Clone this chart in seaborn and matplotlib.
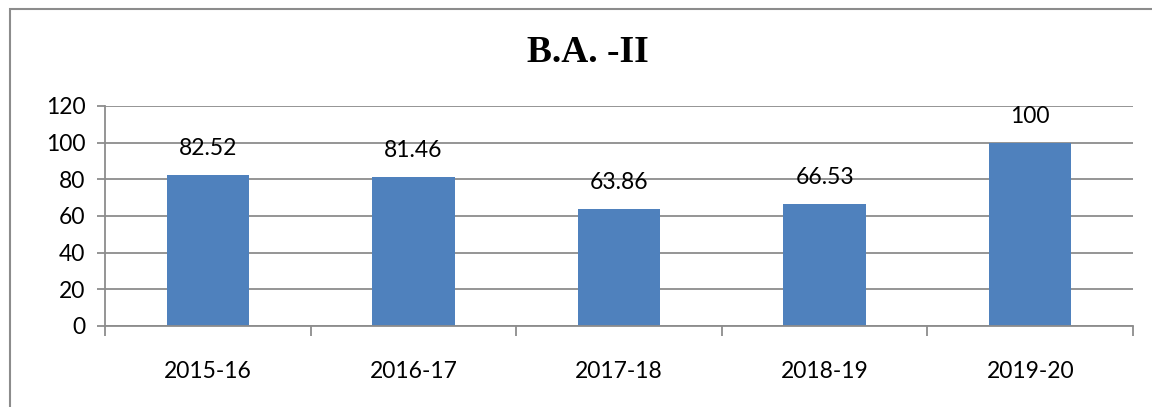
import matplotlib
matplotlib.use("Agg")
import matplotlib.pyplot as plt
import seaborn as sns
import pandas as pd
from matplotlib.patches import Rectangle

categories = ["2015-16", "2016-17", "2017-18", "2018-19", "2019-20"]
values = [82.52, 81.46, 63.86, 66.53, 100]
labels = ["82.52", "81.46", "63.86", "66.53", "100"]
title = "B.A. -II"

sns.set_theme(style="white")
plt.rcParams['font.family'] = ['Lato', 'DejaVu Sans']

W, H = 1152, 407
fig = plt.figure(figsize=(W / 100, H / 100), dpi=100)
ax = fig.add_axes([105 / W, (H - 326) / H, (1133 - 105) / W, 220 / H])

df = pd.DataFrame({"cat": categories, "val": values})
sns.barplot(data=df, x="cat", y="val", color="#4F81BD", saturation=1, width=0.4,
            linewidth=0, ax=ax)

ax.set_ylim(0, 120)
ax.set_xlim(-0.5, len(categories) - 0.5)
ax.set_yticks(range(0, 121, 20))
ax.set_xlabel("")
ax.set_ylabel("")

grid_c = "#8c8c8c"
ax.yaxis.grid(True, color=grid_c, linewidth=1.3)
ax.set_axisbelow(True)
for s in ["top", "right"]:
    ax.spines[s].set_visible(False)
for s in ["left", "bottom"]:
    ax.spines[s].set_color(grid_c)
    ax.spines[s].set_linewidth(1.3)

fs = 16.5
ax.tick_params(axis="y", which="major", left=True, length=6, width=1.3, color=grid_c,
               labelsize=fs, pad=8, labelcolor="black")
ax.tick_params(axis="x", which="major", bottom=False, labelsize=fs, pad=19, labelcolor="black")
ax.set_xticks([i - 0.5 for i in range(len(categories) + 1)], minor=True)
ax.tick_params(axis="x", which="minor", bottom=True, length=7, width=1.3, color=grid_c)

for i, (v, lab) in enumerate(zip(values, labels)):
    ax.annotate(lab, xy=(i, v), xytext=(0, 19), textcoords="offset points",
                ha="center", va="center", fontsize=fs, color="black")

fig.text(588 / W, (H - 52) / H, title, ha="center", va="center", fontsize=27,
         fontweight="bold", color="black", family=["Liberation Serif", "DejaVu Serif"])

fig.patches.append(Rectangle((10 / W, -0.1), 1.2, (H - 9) / H + 0.1, transform=fig.transFigure,
                             fill=False, edgecolor=grid_c, linewidth=1.5))

fig.savefig("out.png", dpi=100)
